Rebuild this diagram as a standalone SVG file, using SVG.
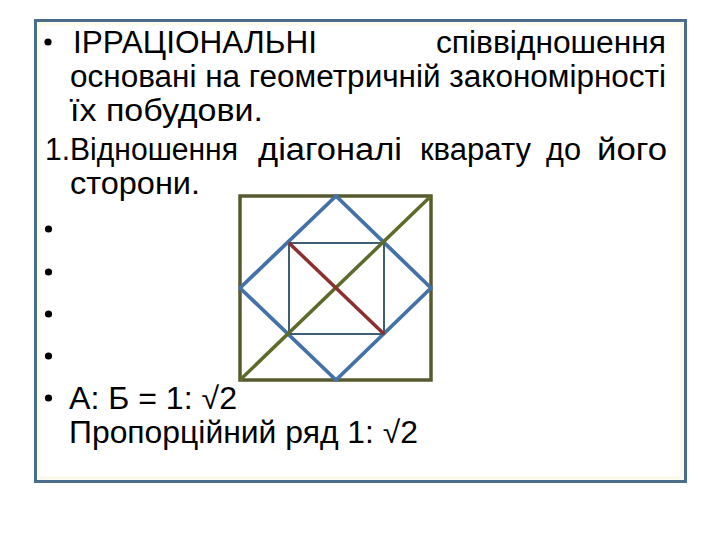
<svg xmlns="http://www.w3.org/2000/svg" width="720" height="540" viewBox="0 0 720 540">
  <style>
    .t { font-family: "Liberation Sans", Arial, sans-serif; font-size: 31px; fill: #000; }
    .frame { fill: #fff; stroke: #4a6d8c; stroke-width: 3; }
    .glow { fill: none; stroke: #fbf9e8; stroke-width: 3; }
    .outer { fill: none; stroke: #575a2e; stroke-width: 3.5; }
    .diamond { fill: none; stroke: #4472a8; stroke-width: 3.8; stroke-linejoin: round; }
    .inner { fill: none; stroke: #3f5f78; stroke-width: 2; }
    .diagG { stroke: #5d6b2a; stroke-width: 3.5; }
    .diagR { stroke: #8c2f2f; stroke-width: 3.5; }
    .bul { fill: #000; }
  </style>
  <rect x="0" y="0" width="720" height="540" fill="#fff"/>
  <g id="frame">
    <rect class="frame" x="35.5" y="20.5" width="650" height="461"/>
    <rect class="glow" x="39" y="24" width="643" height="454"/>
  </g>
  <g id="text">
    <circle class="bul" cx="48" cy="42" r="3.6"/>
    <text class="t" x="73" y="53" textLength="244" lengthAdjust="spacingAndGlyphs">ІРРАЦІОНАЛЬНІ</text>
    <text class="t" x="436" y="53" textLength="230" lengthAdjust="spacingAndGlyphs">співвідношення</text>
    <text class="t" x="70" y="87" textLength="596" lengthAdjust="spacingAndGlyphs">основані на геометричній закономірності</text>
    <text class="t" x="70" y="121" textLength="193" lengthAdjust="spacingAndGlyphs">їх побудови.</text>
    <text class="t" x="45" y="160" textLength="193" lengthAdjust="spacingAndGlyphs">1.Відношення</text>
    <text class="t" x="258" y="160" textLength="144" lengthAdjust="spacingAndGlyphs">діагоналі</text>
    <text class="t" x="420" y="160" textLength="111" lengthAdjust="spacingAndGlyphs">кварату</text>
    <text class="t" x="546" y="160" textLength="35" lengthAdjust="spacingAndGlyphs">до</text>
    <text class="t" x="597" y="160" textLength="70" lengthAdjust="spacingAndGlyphs">його</text>
    <text class="t" x="70" y="194" textLength="130" lengthAdjust="spacingAndGlyphs">сторони.</text>
    <circle class="bul" cx="48.5" cy="229" r="3.6"/>
    <circle class="bul" cx="48.5" cy="272" r="3.6"/>
    <circle class="bul" cx="48.5" cy="314" r="3.6"/>
    <circle class="bul" cx="48.5" cy="356" r="3.6"/>
    <circle class="bul" cx="48.5" cy="398" r="3.6"/>
    <text class="t" x="69" y="409" textLength="168" lengthAdjust="spacingAndGlyphs">А: Б = 1: √2</text>
    <text class="t" x="69" y="443" textLength="349" lengthAdjust="spacingAndGlyphs">Пропорційний ряд 1: √2</text>
  </g>
  <g id="outer-square">
    <rect class="outer" x="240" y="196" width="191" height="184"/>
  </g>
  <g id="diamond">
    <polygon class="diamond" points="336,196 431,288 336,380 240,288"/>
  </g>
  <g id="inner-square">
    <rect class="inner" x="289" y="243" width="95" height="91"/>
  </g>
  <g id="connectors">
    <line class="diagG" x1="240" y1="380" x2="431" y2="196"/>
    <line class="diagR" x1="289" y1="243" x2="384" y2="334"/>
  </g>
</svg>
